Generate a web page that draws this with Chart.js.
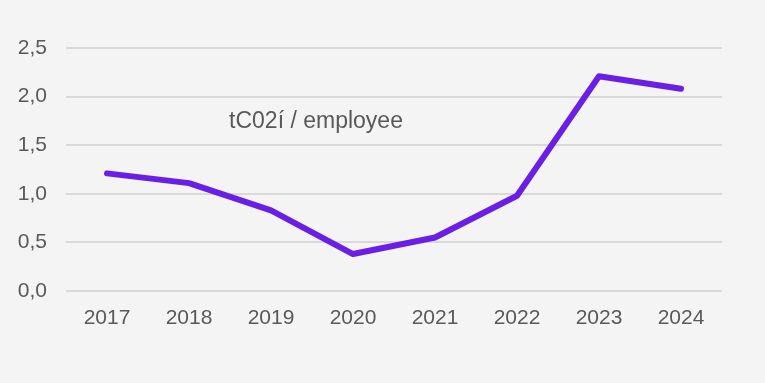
<!DOCTYPE html>
<html>
<head>
<meta charset="utf-8">
<script src="https://cdn.jsdelivr.net/npm/chart.js@4/dist/chart.umd.min.js"></script>
<style>
  html, body { margin: 0; padding: 0; background: #f4f4f4; }
  #wrap { width: 765px; height: 383px; }
</style>
</head>
<body>
<div id="wrap"><canvas id="emissionsChart" width="765" height="383"></canvas></div>
<script>
// chart data
const years = ["2017", "2018", "2019", "2020", "2021", "2022", "2023", "2024"];
const perEmployee = [1.21, 1.11, 0.83, 0.38, 0.55, 0.98, 2.21, 2.08];
const seriesLabel = "tC02í / employee";

// draws the series label inside the plot area
const inlineLabel = {
    id: "inlineLabel",
    afterDatasetsDraw(chart) {
        const ctx = chart.ctx;
        const x = chart.scales.x;
        const y = chart.scales.y;
        ctx.save();
        ctx.font = "23px 'Liberation Sans', Arial, sans-serif";
        ctx.fillStyle = "#595959";
        ctx.textAlign = "center";
        ctx.textBaseline = "middle";
        ctx.fillText(seriesLabel, (x.getPixelForValue(2) + x.getPixelForValue(3)) / 2 + 4, y.getPixelForValue(1.74));
        ctx.restore();
    }
};

const chart = new Chart(document.getElementById("emissionsChart"), {
    type: "line",
    data: {
        labels: years,
        datasets: [{
            label: seriesLabel,
            data: perEmployee,
            borderColor: "#6a1ee6",
            borderWidth: 6,
            borderCapStyle: "round",
            borderJoinStyle: "round",
            pointRadius: 0,
            tension: 0
        }]
    },
    options: {
        responsive: false,
        animation: false,
        layout: { padding: { top: 48, right: 43, left: 0, bottom: 0 } },
        plugins: {
            legend: { display: false },
            tooltip: { enabled: false }
        },
        scales: {
            x: {
                offset: true,
                grid: { display: false },
                border: { display: false },
                ticks: {
                    color: "#595959",
                    padding: 7,
                    font: { family: "'Liberation Sans', Arial, sans-serif", size: 21 }
                },
                afterFit(scale) { scale.height = 92; }
            },
            y: {
                min: 0,
                max: 2.5,
                border: { display: false },
                grid: { color: "#d9d9d9", lineWidth: 2, drawTicks: false },
                ticks: {
                    stepSize: 0.5,
                    color: "#595959",
                    padding: 19,
                    font: { family: "'Liberation Sans', Arial, sans-serif", size: 21 },
                    callback: v => v.toFixed(1).replace(".", ",")
                },
                afterFit(scale) { scale.width = 66; }
            }
        }
    },
    plugins: [inlineLabel]
});
</script>
</body>
</html>
